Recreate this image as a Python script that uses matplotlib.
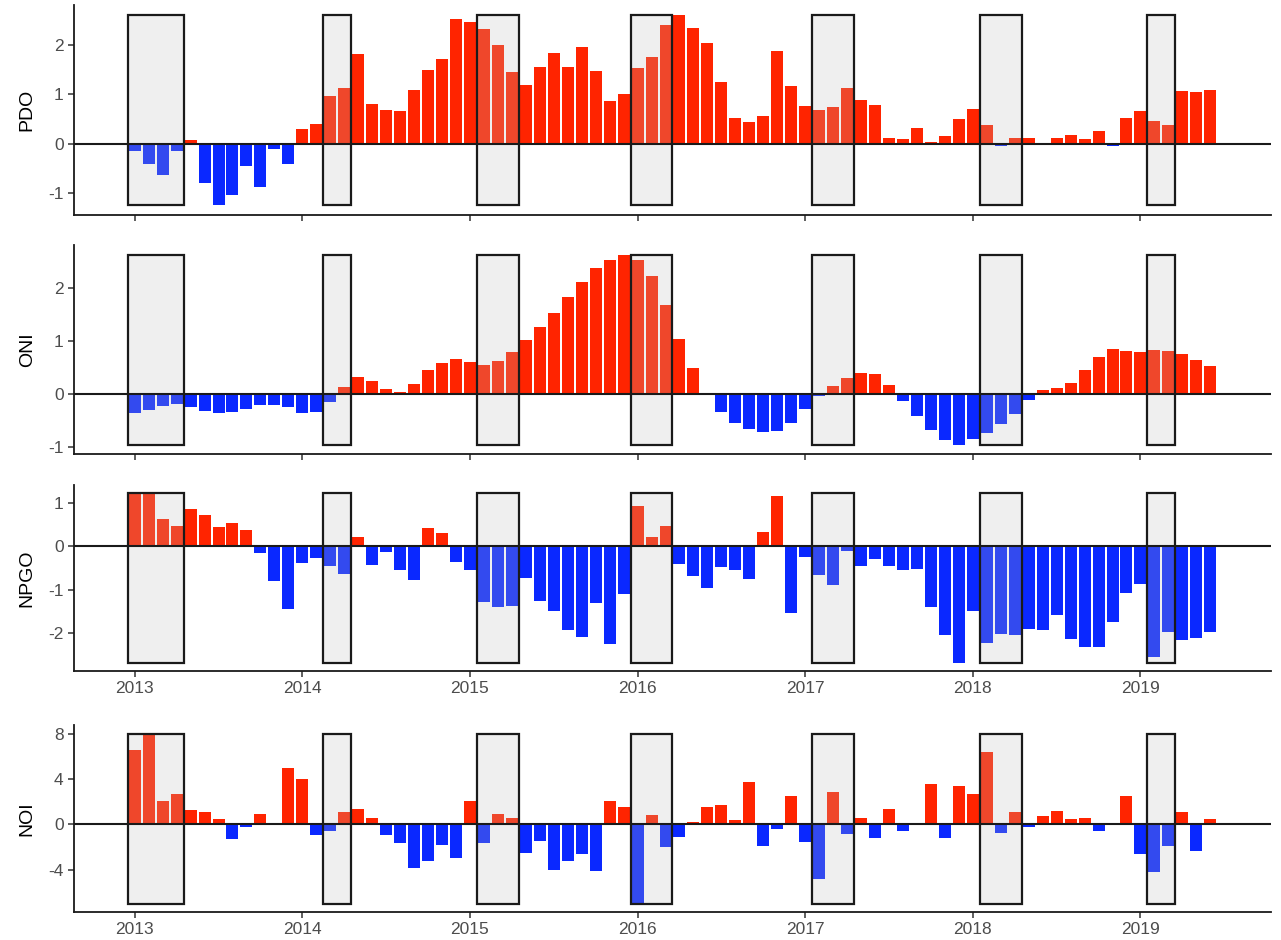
import numpy as np
import matplotlib
matplotlib.use('Agg')
import matplotlib.pyplot as plt
from matplotlib.patches import Rectangle

plt.rcParams['font.family'] = ['Liberation Sans', 'DejaVu Sans']
plt.rcParams['axes.unicode_minus'] = False

# monthly index values, Jan 2013 - Jun 2019
pdo = [-0.14, -0.42, -0.63, -0.15, 0.08, -0.79, -1.25, -1.04, -0.46, -0.87, -0.11, -0.41,
       0.29, 0.39, 0.97, 1.13, 1.81, 0.81, 0.69, 0.66, 1.08, 1.49, 1.72, 2.52,
       2.45, 2.31, 2.00, 1.44, 1.19, 1.55, 1.84, 1.55, 1.95, 1.47, 0.86, 1.01,
       1.53, 1.76, 2.39, 2.61, 2.34, 2.03, 1.25, 0.51, 0.44, 0.56, 1.88, 1.17,
       0.77, 0.69, 0.74, 1.12, 0.88, 0.79, 0.11, 0.09, 0.32, 0.04, 0.15, 0.50,
       0.70, 0.37, -0.05, 0.12, 0.12, -0.03, 0.12, 0.18, 0.09, 0.26, -0.05, 0.51,
       0.65, 0.46, 0.37, 1.07, 1.04, 1.09]
oni = [-0.37, -0.31, -0.23, -0.19, -0.26, -0.33, -0.37, -0.34, -0.29, -0.22, -0.21, -0.26,
       -0.36, -0.35, -0.15, 0.13, 0.31, 0.24, 0.08, 0.03, 0.18, 0.45, 0.58, 0.66,
       0.60, 0.55, 0.62, 0.79, 1.02, 1.26, 1.53, 1.83, 2.11, 2.37, 2.52, 2.63,
       2.52, 2.23, 1.67, 1.03, 0.49, 0.00, -0.34, -0.55, -0.66, -0.72, -0.70, -0.55,
       -0.28, -0.05, 0.14, 0.29, 0.39, 0.38, 0.17, -0.13, -0.42, -0.68, -0.87, -0.96,
       -0.85, -0.75, -0.58, -0.38, -0.11, 0.07, 0.11, 0.21, 0.44, 0.69, 0.85, 0.81,
       0.79, 0.82, 0.81, 0.75, 0.63, 0.53]
npgo = [1.22, 1.22, 0.63, 0.46, 0.85, 0.72, 0.44, 0.55, 0.38, -0.15, -0.80, -1.45,
        -0.39, -0.27, -0.45, -0.63, 0.22, -0.42, -0.13, -0.55, -0.77, 0.42, 0.31, -0.35,
        -0.55, -1.28, -1.40, -1.38, -0.72, -1.25, -1.48, -1.93, -2.09, -1.30, -2.25, -1.11,
        0.94, 0.22, 0.46, -0.40, -0.68, -0.95, -0.48, -0.55, -0.76, 0.34, 1.15, -1.53,
        -0.25, -0.67, -0.89, -0.11, -0.46, -0.29, -0.45, -0.54, -0.52, -1.40, -2.05, -2.68,
        -1.48, -2.23, -2.03, -2.05, -1.91, -1.92, -1.58, -2.13, -2.32, -2.33, -1.75, -1.08,
        -0.86, -2.56, -1.98, -2.15, -2.11, -1.98]
noi = [6.63, 8.05, 2.04, 2.69, 1.27, 1.12, 0.44, -1.27, -0.27, 0.92, 0.00, 5.00,
       3.99, -0.95, -0.62, 1.12, 1.36, 0.53, -0.95, -1.60, -3.85, -3.22, -1.78, -2.96,
       2.04, -1.66, 0.92, 0.59, -2.49, -1.45, -4.05, -3.22, -2.66, -4.08, 2.07, 1.51,
       -7.00, 0.80, -2.04, -1.15, 0.24, 1.51, 1.69, 0.36, 3.76, -1.95, -0.44, 2.51,
       -1.57, -4.79, 2.84, -0.83, 0.59, -1.24, 1.36, -0.56, 0.00, 3.55, -1.18, 3.40,
       2.66, 6.39, -0.77, 1.07, -0.24, 0.74, 1.21, 0.50, 0.59, -0.56, 0.00, 2.54,
       -2.63, -4.23, -1.89, 1.07, -2.34, 0.50]

names = ['PDO', 'ONI', 'NPGO', 'NOI']
yticks = [[-1, 0, 1, 2], [-1, 0, 1, 2], [-2, -1, 0, 1], [-4, 0, 4, 8]]
years = ['2013', '2014', '2015', '2016', '2017', '2018', '2019']

# shaded periods (first and last month, inclusive)
box_start = ['2013-01', '2014-03', '2015-02', '2016-01', '2017-02', '2018-02', '2019-02']
box_end = ['2013-04', '2014-04', '2015-04', '2016-03', '2017-04', '2018-04', '2019-03']


def month_idx(s):
    y, m = s.split('-')
    return (int(y) - 2013) * 12 + int(m) - 1


# panel placement in pixels (top, bottom)
panels = [(5, 215), (245, 454), (485, 671), (725, 912)]
W, H = 1281, 940
left_px, right_px = 74, 1271

fig = plt.figure(figsize=(W / 100, H / 100), dpi=100)
series = [pdo, oni, npgo, noi]
x = np.arange(len(pdo))
xlo, xhi = -0.45, len(pdo) - 0.55
xr = xhi - xlo

for i, (name, vals) in enumerate(zip(names, series)):
    top, bot = panels[i]
    ax = fig.add_axes([left_px / W, 1 - bot / H, (right_px - left_px) / W, (bot - top) / H])
    vals = np.array(vals)
    cols = np.where(vals >= 0, '#FF2400', '#0A28FF')
    ax.bar(x, vals, width=0.86, color=cols, zorder=1, linewidth=0)
    lo, hi = vals.min(), vals.max()
    for s, e in zip(box_start, box_end):
        a, b = month_idx(s) - 0.5, month_idx(e) + 0.5
        ax.add_patch(Rectangle((a, lo), b - a, hi - lo, facecolor='#bebebe', alpha=0.23,
                               edgecolor='none', zorder=2))
        ax.add_patch(Rectangle((a, lo), b - a, hi - lo, facecolor='none',
                               edgecolor='#1a1a1a', linewidth=1.6, zorder=3))
    ax.axhline(0, color='#1a1a1a', linewidth=1.5, zorder=4)
    r = hi - lo
    ax.set_ylim(lo - 0.05 * r, hi + 0.05 * r)
    ax.set_xlim(xlo - 0.05 * xr, xhi + 0.05 * xr)
    ax.set_yticks(yticks[i])
    ax.set_xticks(np.arange(0, 73, 12))
    if name in ('NPGO', 'NOI'):
        ax.set_xticklabels(years)
    else:
        ax.set_xticklabels([])
    for sp in ['top', 'right']:
        ax.spines[sp].set_visible(False)
    for sp in ['left', 'bottom']:
        ax.spines[sp].set_linewidth(1.3)
        ax.spines[sp].set_color('#1a1a1a')
    ax.tick_params(length=4.5, width=1.1, color='#333333', labelcolor='#4d4d4d',
                   labelsize=12.5, pad=3)
    ax.set_ylabel(name, fontsize=14, color='black')
    ax.yaxis.set_label_coords(-0.032, 0.5)

fig.savefig('out.png', dpi=100)
